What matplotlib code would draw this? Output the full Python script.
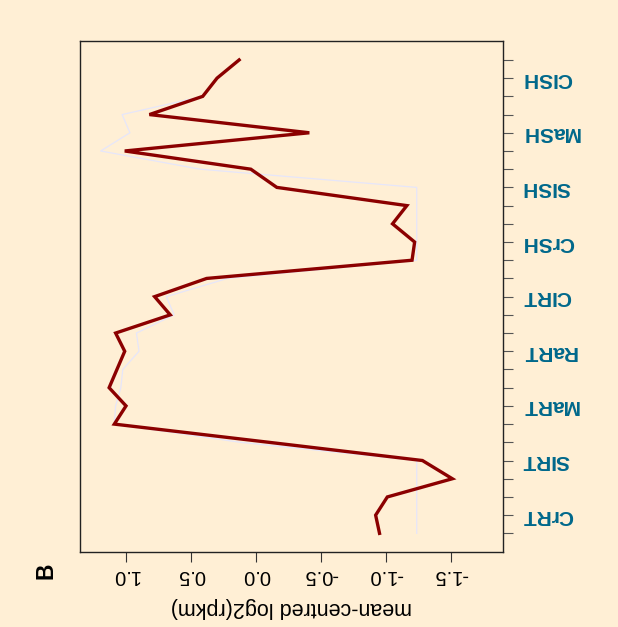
import numpy as np
import matplotlib
matplotlib.use("Agg")
import matplotlib.pyplot as plt

plt.rcParams['font.family'] = ['Liberation Sans', 'DejaVu Sans']

# positions along the profile, 3 per tissue
samples = ['CrRT', 'SIRT', 'MaRT', 'RaRT', 'CIRT', 'CrSH', 'SISH', 'MaSH', 'CISH']

# mean-centred log2(rpkm) per position
profile = [-0.95, -0.92, -1.01, -1.51, -1.28, -0.10, 1.09, 1.00, 1.13,
           1.07, 1.01, 1.08, 0.66, 0.78, 0.38, -1.20, -1.22, -1.05,
           -1.16, -0.16, 0.04, 1.01, -0.41, 0.82, 0.41, 0.30, 0.13]
background = [-1.236, -1.236, -1.236, -1.236, -1.236, 0.12, 1.09, 1.08, 1.04,
              1.025, 0.90, 0.92, 0.63, 0.69, 0.22, -1.236, -1.236, -1.236,
              -1.236, -1.236, 0.43, 1.195, 0.97, 1.03, 0.41, 0.30, 0.13]

bg = '#FFEFD5'
pos = np.arange(1, len(profile) + 1)

fig = plt.figure(figsize=(6.18, 6.27), dpi=100, facecolor=bg)
ax = fig.add_axes([80 / 618, 1 - 552.3 / 627, 423.3 / 618, 511.3 / 627])
ax.set_facecolor(bg)

ax.plot(background, pos, color='#E6E6FA', lw=0.9)
ax.plot(profile, pos, color='#8B0000', lw=2.4, solid_joinstyle='miter')

ax.set_xlim(1.354, -1.902)
ax.set_ylim(-0.04, 28.04)

xt = [1.0, 0.5, 0.0, -0.5, -1.0, -1.5]
ax.set_xticks(xt)
ax.set_xticklabels(['%.1f' % v for v in xt], rotation=180, fontsize=14.5)
ax.tick_params(axis='x', direction='out', length=7, width=0.8, pad=3, color='#333333')

ax.yaxis.tick_right()
ax.set_yticks(pos)
ylabels = ['' for _ in pos]
for k, s in enumerate(samples):
    ylabels[3 * k + 1] = s
ax.set_yticklabels(ylabels, rotation=180, fontsize=15, fontweight='bold',
                   color='#00688B', va='center')
ax.tick_params(axis='y', direction='out', length=7, width=0.8, pad=6.5, color='#555555')

for sp in ax.spines.values():
    sp.set_linewidth(1.0)
    sp.set_color('#222222')

ax.set_xlabel('mean-centred log2(rpkm)', rotation=180, fontsize=15.5, labelpad=8.5)

fig.text(45.5 / 618, 1 - 571 / 627, 'B', rotation=90, fontsize=16.5, fontweight='bold',
         ha='center', va='center')

fig.savefig('out.png', dpi=100, facecolor=bg)
